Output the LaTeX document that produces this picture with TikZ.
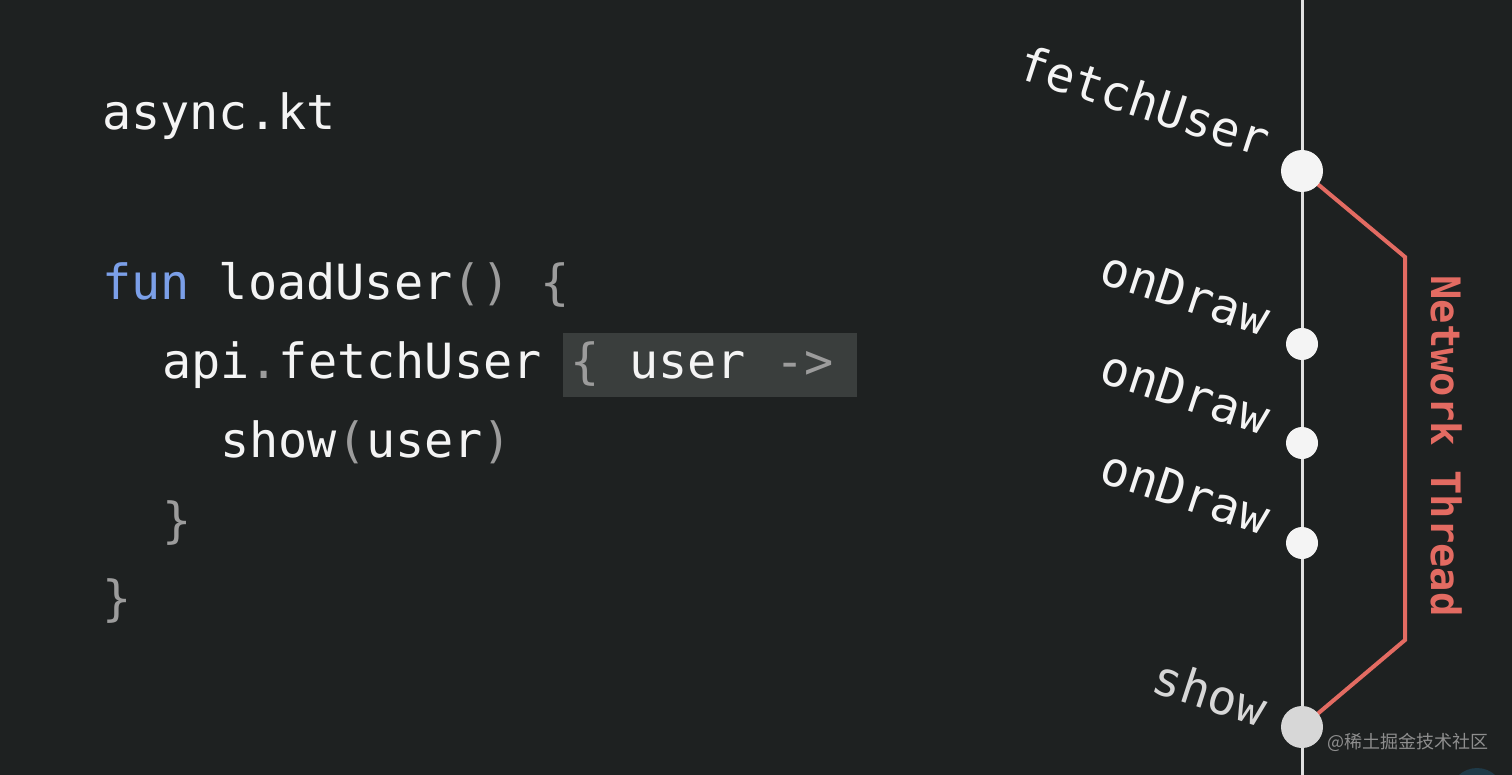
\documentclass[tikz,border=0pt]{standalone}
\usepackage{fontspec}
\newfontfamily\code{DejaVu Sans Mono}
\newfontfamily\cjk{Noto Sans CJK SC}
\definecolor{bg}{HTML}{1E2121}
\definecolor{fg}{HTML}{F4F4F4}
\definecolor{pun}{HTML}{9C9C9C}
\definecolor{kw}{HTML}{7B9FE8}
\definecolor{hl}{HTML}{3A3E3D}
\definecolor{net}{HTML}{E36B62}
\definecolor{wm}{HTML}{8E8E8E}
\definecolor{badge}{HTML}{1F3A48}
\tikzset{
  codeline/.style={anchor=base west, inner sep=0pt, text=fg, font=\code\fontsize{48.5}{58}\selectfont},
  evlabel/.style={anchor=base east, inner sep=0pt, text=fg, rotate=-18, font=\code\fontsize{48}{56}\selectfont},
  bigdot/.style={circle, fill=fg, minimum size=42pt, inner sep=0pt},
  smalldot/.style={circle, fill=fg, minimum size=32pt, inner sep=0pt},
  timeline/.style={draw=fg!92!black, line width=3pt},
  thread/.style={draw=net, line width=4pt, line join=miter}
}
\begin{document}
\begin{tikzpicture}[x=1pt,y=-1pt]
\fill[bg] (0,0) rectangle (1512,775);
\useasboundingbox (0,0) rectangle (1512,775);

% code
\fill[hl] (563,333) rectangle (857,397);
\node[codeline] (file) at (102,130) {async.kt};
\node[codeline] (l1) at (102,300) {{\color{kw}fun} loadUser{\color{pun}()} {\color{pun}\{}};
\node[codeline] (l2) at (162,378) {api{\color{pun}.}fetchUser {\color{pun}\{} user {\color{pun}->}};
\node[codeline] (l3) at (220,457) {show{\color{pun}(}user{\color{pun})}};
\node[codeline] (l4) at (162,537) {\color{pun}\}};
\node[codeline] (l5) at (102,615) {\color{pun}\}};

% timeline
\coordinate (top) at (1302,0);
\coordinate (bot) at (1302,775);
\draw[timeline] (top) -- (bot);

\coordinate (c1) at (1405,257);
\coordinate (c2) at (1405,640);
\coordinate (fpos) at (1302,171);
\coordinate (spos) at (1302,727);
\draw[thread] (fpos) -- (c1) -- (c2) -- (spos);

\node[bigdot] (fetch) at (fpos) {};
\node[smalldot] (d1) at (1302,344) {};
\node[smalldot] (d2) at (1302,443) {};
\node[smalldot] (d3) at (1302,543) {};
\node[bigdot, fill=fg!88!black] (show) at (spos) {};

\node[evlabel] (lf) at (1263,158) {fetchUser};
\node[evlabel] (lo1) at (1263,336) {onDraw};
\node[evlabel] (lo2) at (1263,435) {onDraw};
\node[evlabel] (lo3) at (1263,535) {onDraw};
\node[evlabel, text=fg!88!black] (ls) at (1260,727) {show};

\node[anchor=base, rotate=-90, inner sep=0pt, text=net, font=\code\bfseries\fontsize{40.5}{48}\selectfont] (nt) at (1431,446) {Network Thread};

% watermark
\node[anchor=base west, inner sep=0pt, text=wm, font=\cjk\fontsize{18}{20}\selectfont] (wmk) at (1327,748) {@稀土掘金技术社区};
\fill[badge] (1477,795) circle (27);
\end{tikzpicture}
\end{document}
